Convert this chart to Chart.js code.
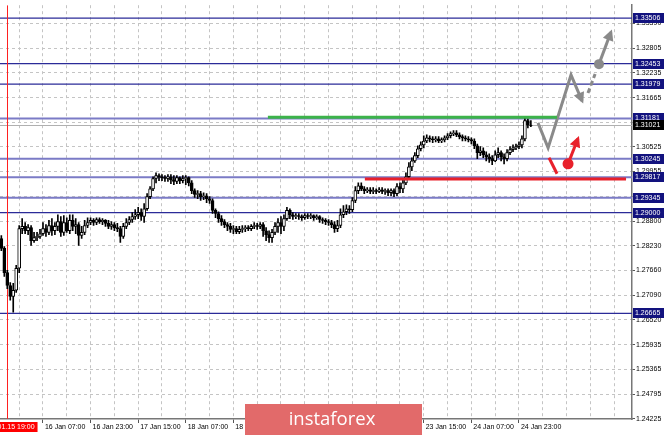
<!DOCTYPE html>
<html>
<head>
<meta charset="utf-8">
<script src="https://cdn.jsdelivr.net/npm/chart.js@4.4.1/dist/chart.umd.min.js"></script>
<style>
  html, body { margin: 0; padding: 0; background: #fff; }
  #wrap { width: 665px; height: 435px; }
</style>
</head>
<body>
<div id="wrap"><canvas id="chart" width="665" height="435"></canvas></div>
<script>
// GBPUSD H1, one candle per hour starting 15 Jan 17:00 (bar 0)
const firstOpen = 1.2840;

const closes = [
  1.2817, 1.2761, 1.2731, 1.2706, 1.2720, 1.2771, 1.2863, 1.2868, 1.2858, 1.2865,
  1.2835, 1.2842, 1.2845, 1.2851, 1.2863, 1.2854, 1.2870, 1.2858, 1.2868, 1.2879,
  1.2854, 1.2877, 1.2858, 1.2882, 1.2868, 1.2872, 1.2847, 1.2854, 1.2870, 1.2877,
  1.2882, 1.2877, 1.2884, 1.2879, 1.2882, 1.2875, 1.2868, 1.2872, 1.2865, 1.2863,
  1.2845, 1.2868, 1.2877, 1.2884, 1.2891, 1.2895, 1.2900, 1.2891, 1.2909, 1.2937,
  1.2955, 1.2979, 1.2986, 1.2983, 1.2981, 1.2979, 1.2983, 1.2976, 1.2972, 1.2981,
  1.2974, 1.2979, 1.2981, 1.2969, 1.2951, 1.2942, 1.2944, 1.2937, 1.2939, 1.2932,
  1.2928, 1.2905, 1.2898, 1.2886, 1.2879, 1.2872, 1.2868, 1.2861, 1.2863, 1.2856,
  1.2861, 1.2863, 1.2865, 1.2863, 1.2868, 1.2870, 1.2868, 1.2872, 1.2858, 1.2849,
  1.2842, 1.2854, 1.2868, 1.2877, 1.2868, 1.2886, 1.2905, 1.2895, 1.2891, 1.2893,
  1.2891, 1.2888, 1.2893, 1.2891, 1.2893, 1.2888, 1.2891, 1.2884, 1.2882, 1.2879,
  1.2877, 1.2872, 1.2863, 1.2870, 1.2895, 1.2902, 1.2909, 1.2907, 1.2928, 1.2951,
  1.2962, 1.2955, 1.2951, 1.2953, 1.2949, 1.2951, 1.2949, 1.2953, 1.2949, 1.2951,
  1.2946, 1.2951, 1.2944, 1.2960, 1.2955, 1.2969, 1.2983, 1.3006, 1.3020, 1.3032,
  1.3048, 1.3057, 1.3066, 1.3073, 1.3071, 1.3069, 1.3071, 1.3066, 1.3069, 1.3073,
  1.3078, 1.3083, 1.3085, 1.3080, 1.3076, 1.3073, 1.3071, 1.3069, 1.3066, 1.3055,
  1.3039, 1.3043, 1.3034, 1.3029, 1.3025, 1.3020, 1.3034, 1.3039, 1.3029, 1.3025,
  1.3039, 1.3046, 1.3050, 1.3053, 1.3057, 1.3071, 1.3113, 1.3103, 1.3102
];

const highs = [
  1.2847, 1.2821, 1.2766, 1.2738, 1.2736, 1.2778, 1.2870, 1.2886, 1.2877, 1.2872,
  1.2870, 1.2854, 1.2854, 1.2861, 1.2877, 1.2872, 1.2882, 1.2886, 1.2877, 1.2895,
  1.2891, 1.2893, 1.2888, 1.2895, 1.2895, 1.2886, 1.2877, 1.2868, 1.2882, 1.2888,
  1.2888, 1.2886, 1.2888, 1.2888, 1.2886, 1.2884, 1.2882, 1.2879, 1.2877, 1.2875,
  1.2868, 1.2875, 1.2886, 1.2891, 1.2900, 1.2907, 1.2912, 1.2909, 1.2921, 1.2944,
  1.2960, 1.2983, 1.2992, 1.2990, 1.2988, 1.2986, 1.2988, 1.2988, 1.2986, 1.2986,
  1.2983, 1.2986, 1.2986, 1.2983, 1.2974, 1.2955, 1.2951, 1.2949, 1.2946, 1.2944,
  1.2937, 1.2932, 1.2909, 1.2902, 1.2893, 1.2884, 1.2877, 1.2875, 1.2870, 1.2868,
  1.2868, 1.2870, 1.2870, 1.2870, 1.2872, 1.2877, 1.2875, 1.2877, 1.2877, 1.2865,
  1.2858, 1.2861, 1.2877, 1.2886, 1.2891, 1.2895, 1.2912, 1.2909, 1.2900, 1.2898,
  1.2898, 1.2895, 1.2898, 1.2898, 1.2898, 1.2895, 1.2895, 1.2893, 1.2888, 1.2886,
  1.2884, 1.2882, 1.2879, 1.2882, 1.2909, 1.2916, 1.2918, 1.2916, 1.2935, 1.2960,
  1.2969, 1.2969, 1.2960, 1.2958, 1.2958, 1.2958, 1.2955, 1.2958, 1.2958, 1.2955,
  1.2955, 1.2955, 1.2955, 1.2967, 1.2969, 1.2979, 1.2992, 1.3016, 1.3027, 1.3039,
  1.3055, 1.3064, 1.3078, 1.3080, 1.3078, 1.3076, 1.3076, 1.3076, 1.3073, 1.3078,
  1.3083, 1.3087, 1.3090, 1.3090, 1.3085, 1.3080, 1.3078, 1.3076, 1.3073, 1.3071,
  1.3059, 1.3053, 1.3050, 1.3041, 1.3036, 1.3032, 1.3043, 1.3050, 1.3043, 1.3036,
  1.3046, 1.3053, 1.3057, 1.3059, 1.3064, 1.3078, 1.3120, 1.3117, 1.3113
];

const lows = [
  1.2812, 1.2752, 1.2724, 1.2697, 1.2669, 1.2715, 1.2761, 1.2851, 1.2851, 1.2849,
  1.2824, 1.2831, 1.2835, 1.2840, 1.2847, 1.2845, 1.2849, 1.2847, 1.2849, 1.2858,
  1.2845, 1.2847, 1.2854, 1.2851, 1.2858, 1.2851, 1.2824, 1.2840, 1.2849, 1.2865,
  1.2872, 1.2870, 1.2872, 1.2875, 1.2872, 1.2868, 1.2863, 1.2861, 1.2858, 1.2856,
  1.2831, 1.2840, 1.2863, 1.2872, 1.2877, 1.2884, 1.2886, 1.2882, 1.2877, 1.2905,
  1.2932, 1.2951, 1.2969, 1.2974, 1.2974, 1.2972, 1.2972, 1.2967, 1.2965, 1.2967,
  1.2967, 1.2969, 1.2965, 1.2962, 1.2944, 1.2935, 1.2932, 1.2928, 1.2930, 1.2923,
  1.2921, 1.2898, 1.2888, 1.2877, 1.2870, 1.2865, 1.2858, 1.2854, 1.2851, 1.2851,
  1.2851, 1.2854, 1.2856, 1.2858, 1.2858, 1.2863, 1.2861, 1.2863, 1.2845, 1.2835,
  1.2831, 1.2831, 1.2849, 1.2854, 1.2851, 1.2858, 1.2882, 1.2886, 1.2884, 1.2886,
  1.2884, 1.2882, 1.2884, 1.2886, 1.2886, 1.2882, 1.2884, 1.2877, 1.2875, 1.2872,
  1.2870, 1.2865, 1.2854, 1.2856, 1.2865, 1.2888, 1.2895, 1.2898, 1.2902, 1.2923,
  1.2944, 1.2951, 1.2944, 1.2946, 1.2944, 1.2944, 1.2944, 1.2946, 1.2944, 1.2942,
  1.2939, 1.2939, 1.2937, 1.2939, 1.2946, 1.2946, 1.2965, 1.2979, 1.2997, 1.3016,
  1.3027, 1.3043, 1.3050, 1.3062, 1.3064, 1.3062, 1.3064, 1.3062, 1.3062, 1.3064,
  1.3069, 1.3073, 1.3078, 1.3076, 1.3071, 1.3066, 1.3066, 1.3064, 1.3059, 1.3048,
  1.3025, 1.3032, 1.3027, 1.3020, 1.3016, 1.3011, 1.3018, 1.3027, 1.3020, 1.3013,
  1.3020, 1.3034, 1.3041, 1.3046, 1.3048, 1.3050, 1.3066, 1.3096, 1.3099
];

// price axis ticks and highlighted levels
const yTicks = [1.24225, 1.24795, 1.25365, 1.25935, 1.26520, 1.27090, 1.27660, 1.28230, 1.28800,
                1.29370, 1.29955, 1.30525, 1.31095, 1.31665, 1.32235, 1.32805, 1.33390];
const levels = [1.33506, 1.32453, 1.31979, 1.31181, 1.30245, 1.29817, 1.29345, 1.29000, 1.26665];
const darkLevels = [1.33506, 1.32453, 1.31979, 1.29000, 1.26665];
const lastPrice = 1.31021;

// time axis labels (bar index -> text)
const xLabelBars = [14, 30, 46, 62, 78, 94, 110, 126, 142, 158, 174];
const xLabels = ["16 Jan 07:00", "16 Jan 23:00", "17 Jan 15:00", "18 Jan 07:00", "18 Jan 23:00",
                 "21 Jan 15:00", "22 Jan 07:00", "22 Jan 23:00", "23 Jan 15:00", "24 Jan 07:00", "24 Jan 23:00"];
const separatorBar = 2;
const separatorLabel = "2020.01.15 19:00";

// drawn forecast marks as [bar, price]
const greenLine = [[89.6, 1.3121], [186.8, 1.3121]];
const redLine = [[122.2, 1.2978], [210.0, 1.2978]];
const grayPath = [[180.4, 1.3108], [183.8, 1.3050], [191.5, 1.3219], [195.2, 1.3159]];
const grayDash = [[197.2, 1.3177], [199.6, 1.3221]];
const grayArrow = [[200.9, 1.3244], [204.9, 1.3318]];
const redStroke = [[184.1, 1.3027], [186.8, 1.2990]];
const redArrow = [[190.5, 1.3013], [193.8, 1.3071]];

const toXY = pts => pts.map(p => ({ x: p[0], y: p[1] }));
const opens = closes.map((c, i) => i === 0 ? firstOpen : closes[i - 1]);

const xGrid = [];
for (let b = 6; b <= 210; b += 8) xGrid.push(b);

const GRAY = '#8a8a8a';
const RED = '#e8212b';

function lineSet(pts, color, width, extra) {
  return Object.assign({
    type: 'line',
    data: toXY(pts),
    borderColor: color,
    backgroundColor: color,
    borderWidth: width,
    pointRadius: 0,
    tension: 0,
    order: 1
  }, extra || {});
}

const mt4 = {
  id: 'mt4',
  beforeDatasetsDraw(chart) {
    const { ctx, chartArea: a, scales: { x, y } } = chart;
    ctx.save();
    ctx.beginPath();
    ctx.rect(a.left, a.top, a.right - a.left, a.bottom - a.top);
    ctx.clip();
    let py = Math.round(y.getPixelForValue(lastPrice)) + 0.5;
    ctx.strokeStyle = '#b0b0b0';
    ctx.lineWidth = 1;
    ctx.beginPath(); ctx.moveTo(a.left, py); ctx.lineTo(a.right, py); ctx.stroke();
    levels.forEach(v => {
      const dark = darkLevels.includes(v);
      const ly = y.getPixelForValue(v);
      ctx.strokeStyle = dark ? '#2b2b98' : '#7b7bc6';
      ctx.lineWidth = dark ? 1.3 : 2;
      ctx.beginPath(); ctx.moveTo(a.left, ly); ctx.lineTo(a.right, ly); ctx.stroke();
    });
    const sx = Math.round(x.getPixelForValue(separatorBar)) + 0.5;
    ctx.strokeStyle = '#ff2020';
    ctx.lineWidth = 1;
    ctx.beginPath(); ctx.moveTo(sx, a.top); ctx.lineTo(sx, a.bottom); ctx.stroke();
    ctx.restore();
  },
  afterDatasetsDraw(chart) {
    const ctx = chart.ctx;
    chart.data.datasets.forEach((ds, di) => {
      if (!ds.arrowHead) return;
      const pts = chart.getDatasetMeta(di).data;
      const p0 = pts[pts.length - 2], p1 = pts[pts.length - 1];
      const ang = Math.atan2(p1.y - p0.y, p1.x - p0.x);
      const len = 11, half = 5.5;
      const c = Math.cos(ang), s = Math.sin(ang);
      const tx = p1.x + c * 3, ty = p1.y + s * 3;
      ctx.save();
      ctx.fillStyle = ds.borderColor;
      ctx.beginPath();
      ctx.moveTo(tx, ty);
      ctx.lineTo(tx - len * c + half * s, ty - len * s - half * c);
      ctx.lineTo(tx - len * c - half * s, ty - len * s + half * c);
      ctx.closePath();
      ctx.fill();
      ctx.restore();
    });
  },
  afterDraw(chart) {
    const { ctx, chartArea: a, scales: { x, y } } = chart;
    ctx.save();
    ctx.font = '7px "Liberation Sans", Arial, sans-serif';
    ctx.textBaseline = 'middle';
    ctx.textAlign = 'left';
    const boxes = levels.map(v => ({ v, fill: '#12127e' })).concat([{ v: lastPrice, fill: '#000' }]);
    boxes.forEach(b => {
      const by = Math.round(y.getPixelForValue(b.v));
      ctx.fillStyle = b.fill;
      ctx.fillRect(a.right + 1, by - 5, 31, 10);
      ctx.fillStyle = '#fff';
      ctx.fillText(b.v.toFixed(5), a.right + 3, by + 0.5);
    });
    // period separator time box
    const sx = x.getPixelForValue(separatorBar);
    const tw = ctx.measureText(separatorLabel).width;
    ctx.fillStyle = '#ff0000';
    ctx.fillRect(sx - tw / 2 - 3, a.bottom + 3, tw + 6, 10);
    ctx.fillStyle = '#fff';
    ctx.fillText(separatorLabel, sx - tw / 2, a.bottom + 8.5);
    // watermark banner
    ctx.fillStyle = '#e26a6a';
    ctx.fillRect(245, 404, 177, 31);
    ctx.fillStyle = '#fff';
    ctx.font = '18.5px "Open Sans", sans-serif';
    ctx.textAlign = 'center';
    ctx.textBaseline = 'alphabetic';
    ctx.fillText('instaforex', 332, 425);
    ctx.restore();
  }
};

Chart.defaults.font.family = '"Liberation Sans", Arial, sans-serif';

new Chart(document.getElementById('chart'), {
  type: 'bar',
  data: {
    datasets: [
      lineSet(greenLine, '#3cb34a', 3),
      lineSet(redLine, RED, 3),
      lineSet(grayPath, GRAY, 3, { arrowHead: true }),
      lineSet(grayDash, GRAY, 3, { borderDash: [5, 3] }),
      lineSet(grayArrow, GRAY, 3, { arrowHead: true, pointRadius: [5, 0], pointBackgroundColor: GRAY, pointBorderWidth: 0 }),
      lineSet(redStroke, RED, 3),
      lineSet(redArrow, RED, 3, { arrowHead: true, pointRadius: [5.5, 0], pointBackgroundColor: RED, pointBorderWidth: 0 }),
      {
        label: 'body',
        data: closes.map((c, i) => ({ x: i, y: [opens[i], c] })),
        backgroundColor: closes.map((c, i) => c >= opens[i] ? '#ffffff' : '#000000'),
        borderColor: '#000',
        borderWidth: 1,
        borderSkipped: false,
        barThickness: 3,
        grouped: false,
        order: 2
      },
      {
        label: 'wick',
        data: closes.map((c, i) => ({ x: i, y: [lows[i], highs[i]] })),
        backgroundColor: '#000',
        borderWidth: 0,
        barThickness: 1,
        grouped: false,
        order: 3
      }
    ]
  },
  options: {
    responsive: false,
    animation: false,
    devicePixelRatio: 1,
    layout: { autoPadding: false, padding: { top: 4, left: 0, right: 0, bottom: 0 } },
    plugins: { legend: { display: false }, tooltip: { enabled: false } },
    scales: {
      x: {
        type: 'linear',
        min: -0.45,
        max: 212,
        offset: false,
        afterBuildTicks: s => { s.ticks = xGrid.map(v => ({ value: v })); },
        afterFit: s => { s.height = 16; s.paddingLeft = 0; s.paddingRight = 0; },
        grid: {
          offset: false,
          color: '#c4c4c4',
          lineWidth: 1,
          tickLength: 4,
          tickColor: c => xLabelBars.includes(c.tick && c.tick.value) ? '#555' : 'rgba(0,0,0,0)'
        },
        border: { display: true, color: '#777', width: 1.5, dash: [3, 3] },
        ticks: {
          autoSkip: false,
          maxRotation: 0,
          align: 'start',
          padding: 0,
          color: '#000',
          font: { size: 7 },
          callback: v => {
            const k = xLabelBars.indexOf(v);
            return k >= 0 ? ' ' + xLabels[k] : '';
          }
        }
      },
      y: {
        type: 'linear',
        position: 'right',
        min: 1.24217,
        max: 1.33806,
        beginAtZero: false,
        afterBuildTicks: s => { s.ticks = yTicks.map(v => ({ value: v })); },
        afterFit: s => { s.width = 33; },
        grid: { color: '#c4c4c4', lineWidth: 1, tickLength: 3, tickColor: '#555' },
        border: { display: true, color: '#777', width: 1.5, dash: [3, 3] },
        ticks: {
          padding: 1,
          color: '#000',
          font: { size: 7 },
          callback: v => v.toFixed(5)
        }
      }
    }
  },
  plugins: [mt4]
});
</script>
</body>
</html>
